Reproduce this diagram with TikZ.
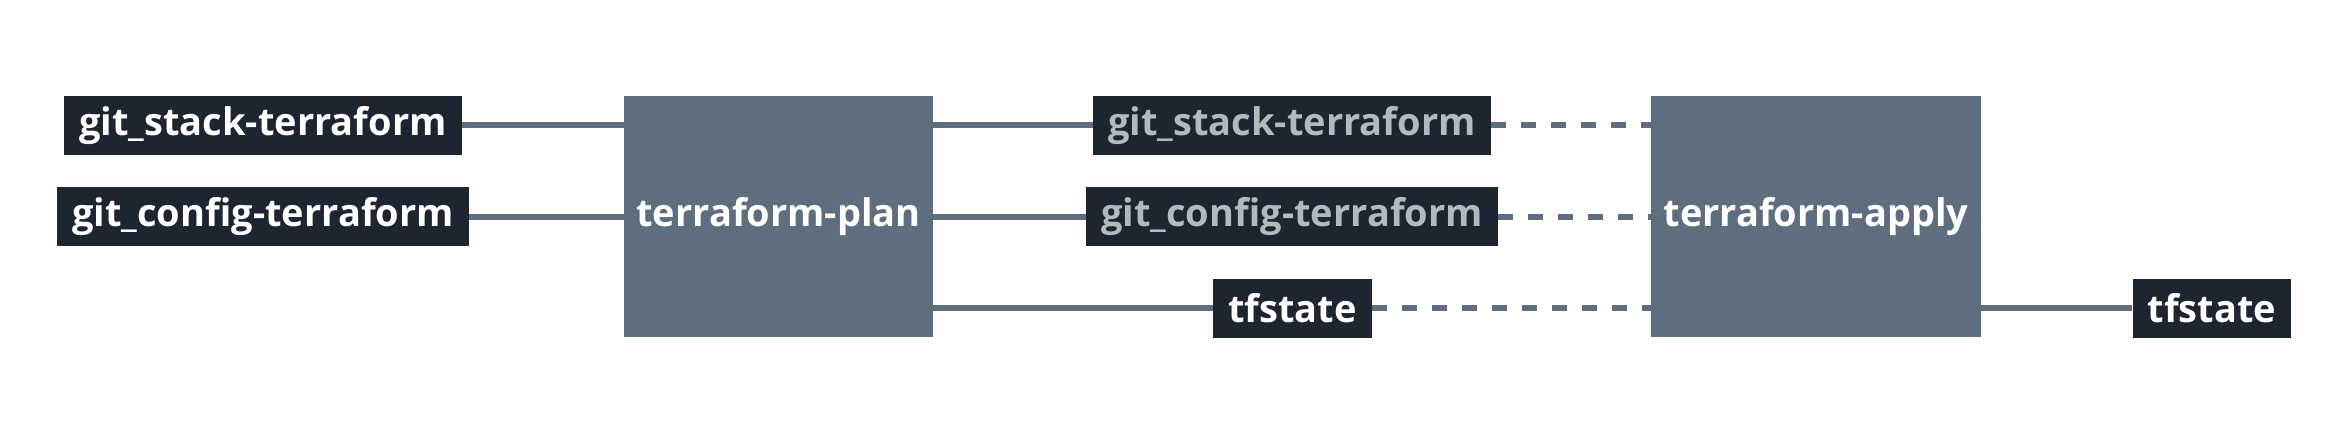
\documentclass[tikz,border=0pt]{standalone}
\usepackage{fontspec}
\setmainfont{Open Sans}[BoldFont={Open Sans Bold}]
\usepackage{tikz}
\usetikzlibrary{calc}
\definecolor{slate}{HTML}{5F6E7F}
\definecolor{navy}{HTML}{1C2530}
\definecolor{faded}{HTML}{B4B9BE}
\tikzset{
  artifact/.style={
    fill=navy,
    text=white,
    inner xsep=7.5pt,
    minimum height=29.5pt,
    font=\fontsize{19}{22}\selectfont\bfseries},
  job/.style={
    fill=slate,
    text=white,
    minimum height=120.5pt,
    font=\fontsize{19}{22}\selectfont\bfseries},
  wire/.style={
    draw=slate,
    line width=3pt},
  pending/.style={
    wire,
    dash pattern=on 7.5pt off 7.5pt}
  }
\begin{document}
\begin{tikzpicture}[x=0.5pt,y=-0.5pt]
  \useasboundingbox (0,0) rectangle (2351,444);
  \node[artifact] (stackin) at (263,125.5) {git\_stack-terraform};
  \node[artifact] (configin) at (263,216.5) {git\_config-terraform};
  \node[job, minimum width=154.5pt] (plan) at (778.5,216.5) {terraform-plan};
  \node[artifact, text=faded] (stackmid) at (1292,125.5) {git\_stack-terraform};
  \node[artifact, text=faded] (configmid) at (1292,216.5) {git\_config-terraform};
  \node[artifact] (statemid) at (1292.5,308) {tfstate};
  \node[job, minimum width=165pt] (apply) at (1816,216.5) {terraform-apply};
  \node[artifact] (stateout) at (2212,308) {tfstate};
  \draw [wire]
    (stackin) edge[] (stackin -| plan.west)
    (configin) edge[] (configin -| plan.west)
    (plan.east |- stackmid) edge[] (stackmid)
    (plan.east |- configmid) edge[] (configmid)
    (plan.east |- statemid) edge[] (statemid)
    (apply.east |- stateout) edge[] (stateout);
  \draw [pending]
    (stackmid) edge[] (stackmid -| apply.west)
    (configmid) edge[] (configmid -| apply.west)
    (statemid) edge[] (statemid -| apply.west);
\end{tikzpicture}
\end{document}
